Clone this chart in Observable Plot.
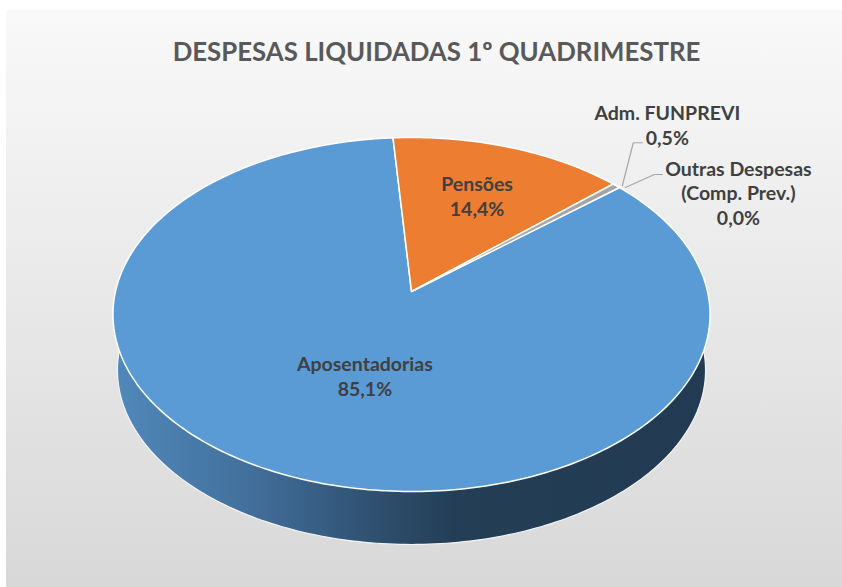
<!DOCTYPE html>
<html><head><meta charset="utf-8">
<script src="https://cdn.jsdelivr.net/npm/d3@7"></script>
<script src="https://cdn.jsdelivr.net/npm/@observablehq/plot@0.6"></script>
<style>
html,body{margin:0;padding:0;background:#fff;}
#wrap{position:relative;width:842px;height:587px;overflow:hidden;}
#bg{position:absolute;left:6px;top:10px;width:836px;height:577px;background:linear-gradient(#f9f9f9,#d8d8d8);}
#chart{position:absolute;left:0;top:0;}
</style></head><body>
<div id="wrap"><div id="bg"></div><div id="chart"></div></div>
<script>
// ---- data ----
const title = "DESPESAS LIQUIDADAS 1º QUADRIMESTRE";
const categories = ["Aposentadorias", "Pensões", "Adm. FUNPREVI", "Outras Despesas\n(Comp. Prev.)"];
const values = [85.1, 14.4, 0.5, 0.0];
const valueLabels = ["85,1%", "14,4%", "0,5%", "0,0%"];
const colors = ["#5b9bd5", "#ed7d31", "#a5a5a5", "#ffc000"];

// ---- layout ----
const W = 842, H = 587;
const CX = 411, CY = 291, RX = 296, RY = 174, PERSP = 0.13, DEPTH = 56, BOTTOM_SCALE = 0.985;
const START = 49.6 * Math.PI / 180;
const FONT = "Lato, 'Open Sans', sans-serif";

function project(t, r = 1, level = 0) {
  const u = r * Math.sin(t), v = -r * Math.cos(t);
  const s = level ? BOTTOM_SCALE : 1;
  const w = 1 - PERSP * v;
  return [CX + s * RX * u / w, CY + s * RY * v / w + (level ? DEPTH : 0)];
}

const arcs = d3.pie().sort(null).value(d => d).startAngle(START).endAngle(START + 2 * Math.PI)(values);

// slices (top face)
const slicePts = [];
arcs.forEach((a, i) => {
  const n = Math.max(2, Math.ceil((a.endAngle - a.startAngle) / (Math.PI / 180)));
  const [cx, cy] = project(0, 0);
  slicePts.push({i, x: cx, y: cy});
  for (let k = 0; k <= n; k++) {
    const [x, y] = project(a.startAngle + (a.endAngle - a.startAngle) * k / n);
    slicePts.push({i, x, y});
  }
});

// side (bottom face outline of the cylinder)
const sidePts = d3.range(0, 361).map(k => {
  const [x, y] = project(k * Math.PI / 180, 1, 1);
  return {x, y};
});

// labels
const mid = a => (a.startAngle + a.endAngle) / 2;
const insideR = [0.48, 0.64];
const insideTweak = [-4.8 * Math.PI / 180, 0];
const textData = [];
[0, 1].forEach(i => {
  const [x, y] = project(mid(arcs[i]) + insideTweak[i], insideR[i]);
  textData.push({x, y, text: categories[i] + "\n" + valueLabels[i]});
});
// outside labels with leader lines
const leaders = [];
const outsideLayout = [
  {i: 2, elbow: [17, -43], end: 9, text: [51, -61]},
  {i: 3, elbow: [35, -13], end: 8, text: [119, 5]}
];
outsideLayout.forEach(({i, elbow, end, text}, j) => {
  const [rx, ry] = project(mid(arcs[i]), 1.0);
  const ex = rx + elbow[0], ey = ry + elbow[1];
  leaders.push({j, x: rx + 6, y: ry}, {j, x: ex, y: ey}, {j, x: ex + end, y: ey});
  textData.push({x: rx + text[0], y: ry + text[1], text: categories[i] + "\n" + valueLabels[i]});
});

const plot = Plot.plot({
  width: W, height: H, margin: 0,
  x: {domain: [0, W], range: [0, W], axis: null},
  y: {domain: [0, H], range: [0, H], axis: null},
  color: {type: "identity"},
  style: {background: "transparent", overflow: "visible"},
  marks: [
    Plot.line(sidePts, {x: "x", y: "y", curve: "linear-closed", fill: "url(#sideGrad)", stroke: "#f4f4f4", strokeWidth: 1.2}),
    Plot.line(slicePts, {x: "x", y: "y", z: "i", curve: "linear-closed",
      fill: d => colors[d.i], stroke: d => values[d.i] > 0 ? "#ffffff" : "none", strokeWidth: 1.5}),
    Plot.line(leaders, {x: "x", y: "y", z: "j", stroke: "#a6a6a6", strokeWidth: 1.2}),
    Plot.text(textData, {x: "x", y: "y", text: "text", fill: "#404040", fontSize: 19.5, fontWeight: "bold",
      fontFamily: FONT, lineHeight: 1.28, textAnchor: "middle", lineAnchor: "middle"}),
    Plot.text([title], {frameAnchor: "top", dx: 15, dy: 42, fill: "#595959", fontSize: 25.8, fontWeight: "bold",
      fontFamily: FONT, lineAnchor: "top"})
  ]
});

const defs = d3.select(plot).insert("defs", ":first-child");
const g = defs.append("linearGradient").attr("id", "sideGrad")
  .attr("gradientUnits", "userSpaceOnUse").attr("x1", CX - RX).attr("x2", CX + RX).attr("y1", 0).attr("y2", 0);
[[0, "#5089bb"], [0.23, "#426f9b"], [0.37, "#355a7e"], [0.57, "#243e56"], [1, "#223b52"]]
  .forEach(([o, c]) => g.append("stop").attr("offset", o).attr("stop-color", c));

document.getElementById("chart").appendChild(plot);
</script>
</body></html>
